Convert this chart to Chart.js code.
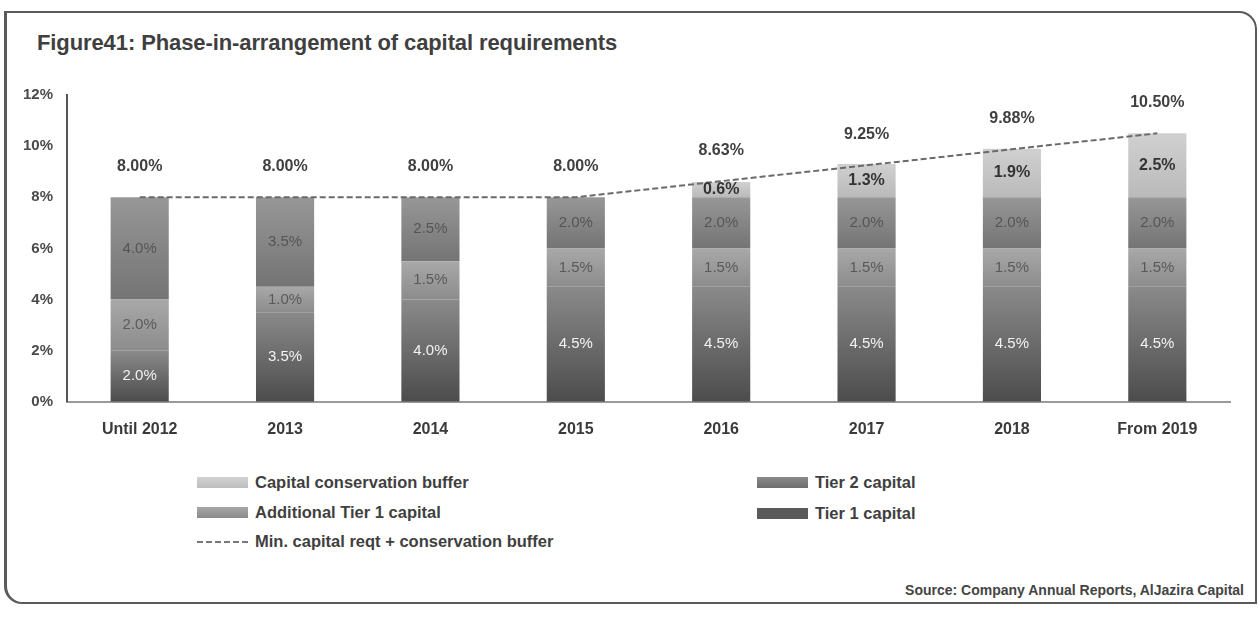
<!DOCTYPE html>
<html>
<head>
<meta charset="utf-8">
<script src="https://cdn.jsdelivr.net/npm/chart.js@4.4.1/dist/chart.umd.min.js"></script>
<style>
  body { margin: 0; background: #fff; font-family: 'Liberation Sans', Arial, sans-serif; }
  #page { position: relative; width: 1259px; height: 619px; overflow: hidden; }
  #frame {
    position: absolute; left: 4px; top: 11px; width: 1248px; height: 589px;
    border: 2px solid #5a5a5a; border-left-width: 3px; border-radius: 0 18px 0 18px;
  }
  #title {
    position: absolute; left: 37px; top: 30px; font-size: 22px; font-weight: bold; color: #3f3f3f;
    white-space: nowrap; letter-spacing: -0.1px;
  }
  #chart-wrap { position: absolute; left: 0; top: 80px; width: 1259px; height: 380px; }
  .legend-item {
    position: absolute; display: flex; align-items: center; font-size: 16.5px; font-weight: bold;
    color: #3f3f3f; white-space: nowrap;
  }
  .swatch { width: 51px; height: 11px; margin-right: 7px; }
  .dash { width: 51px; height: 0; border-top: 2px dashed #777; margin-right: 7px; }
  #source {
    position: absolute; right: 15px; top: 582px; font-size: 14px; font-weight: bold; color: #444;
    white-space: nowrap;
  }
</style>
</head>
<body>
<div id="page">
  <div id="frame"></div>
  <div id="title">Figure41: Phase-in-arrangement of capital requirements</div>
  <div id="chart-wrap"><canvas id="chart"></canvas></div>
  <div id="legend"></div>
  <div id="source">Source: Company Annual Reports, AlJazira Capital</div>
</div>
<script>
const years = ['Until 2012', '2013', '2014', '2015', '2016', '2017', '2018', 'From 2019']
const tier1 = [2.0, 3.5, 4.0, 4.5, 4.5, 4.5, 4.5, 4.5]
const additionalTier1 = [2.0, 1.0, 1.5, 1.5, 1.5, 1.5, 1.5, 1.5]
const tier2 = [4.0, 3.5, 2.5, 2.0, 2.0, 2.0, 2.0, 2.0]
const buffer = [0, 0, 0, 0, 0.6, 1.3, 1.9, 2.5]
const minPlusBuffer = [8.0, 8.0, 8.0, 8.0, 8.63, 9.25, 9.88, 10.5]
const yTicks = [0, 2, 4, 6, 8, 10, 12]

// stack order, bottom to top
const stacks = [tier1, additionalTier1, tier2, buffer]
const shades = [
  { top: '#8a8a8a', bottom: '#4c4c4c', flat: '#5a5a5a', text: '#f2f2f2' },
  { top: '#a8a8a8', bottom: '#8c8c8c', flat: '#9a9a9a', text: '#5a5a5a' },
  { top: '#979797', bottom: '#747474', flat: '#838383', text: '#555555' },
  { top: '#d0d0d0', bottom: '#bababa', flat: '#c4c4c4', text: '#333333' },
]

function segmentFill(ctx, k) {
  const chart = ctx.chart
  const y = chart.scales.y
  if (!chart.chartArea || !y) return shades[k].flat
  const i = ctx.dataIndex
  let base = 0
  for (let j = 0; j < k; j++) base += stacks[j][i]
  const y0 = y.getPixelForValue(base + stacks[k][i])
  const y1 = y.getPixelForValue(base)
  if (y1 - y0 < 1) return shades[k].flat
  const g = chart.ctx.createLinearGradient(0, y0, 0, y1)
  g.addColorStop(0, shades[k].top)
  g.addColorStop(1, shades[k].bottom)
  return g
}

const barNames = ['Tier 1 capital', 'Additional Tier 1 capital', 'Tier 2 capital', 'Capital conservation buffer']

const barSets = stacks.map((vals, k) => ({
  type: 'bar',
  label: barNames[k],
  data: vals,
  stack: 'capital',
  order: 1,
  backgroundColor: (ctx) => segmentFill(ctx, k),
  barPercentage: 0.8,
  categoryPercentage: 0.5,
}))

// value labels on the segments and above the line
const labelPlugin = {
  id: 'valueLabels',
  afterDatasetsDraw(chart) {
    const c = chart.ctx
    c.save()
    c.textAlign = 'center'
    c.textBaseline = 'middle'
    stacks.forEach((vals, k) => {
      const meta = chart.getDatasetMeta(k)
      meta.data.forEach((bar, i) => {
        if (!vals[i]) return
        const mid = (bar.y + bar.base) / 2
        c.font = k === 3 ? 'bold 16px "Liberation Sans", Arial' : '15px "Liberation Sans", Arial'
        c.fillStyle = shades[k].text
        c.fillText(vals[i].toFixed(1) + '%', bar.x, mid)
      })
    })
    const lineMeta = chart.getDatasetMeta(4)
    c.font = 'bold 16px "Liberation Sans", Arial'
    c.fillStyle = '#3f3f3f'
    lineMeta.data.forEach((pt, i) => {
      c.fillText(minPlusBuffer[i].toFixed(2) + '%', pt.x, pt.y - 31)
    })
    c.restore()
  },
}

new Chart(document.getElementById('chart'), {
  type: 'bar',
  data: {
    labels: years,
    datasets: [
      ...barSets,
      {
        type: 'line',
        label: 'Min. capital reqt + conservation buffer',
        data: minPlusBuffer,
        stack: 'line',
        order: 0,
        borderColor: '#6a6a6a',
        borderWidth: 2,
        borderDash: [6, 3],
        pointRadius: 0,
        tension: 0,
      },
    ],
  },
  options: {
    responsive: true,
    maintainAspectRatio: false,
    animation: false,
    layout: { padding: { top: 14, right: 29, bottom: 11, left: 0 } },
    plugins: {
      legend: { display: false },
      tooltip: { enabled: false },
    },
    scales: {
      x: {
        stacked: true,
        grid: { display: false },
        border: { display: true, color: '#9a9a9a', width: 2 },
        ticks: {
          padding: 10,
          color: '#3a3a3a',
          font: { family: '"Liberation Sans", Arial', size: 16, weight: 'bold' },
        },
      },
      y: {
        stacked: true,
        min: 0,
        max: 12,
        afterBuildTicks: (s) => { s.ticks = yTicks.map((v) => ({ value: v })) },
        afterFit: (s) => { s.width = 67 },
        grid: { display: false },
        border: { display: true, color: '#555555', width: 2 },
        ticks: {
          padding: 6,
          color: '#4a4a4a',
          font: { family: '"Liberation Sans", Arial', size: 15, weight: 'bold' },
          callback: (v) => v + '%',
        },
      },
    },
  },
  plugins: [labelPlugin],
})

// legend laid out in two columns under the plot
const legendItems = [
  { text: 'Capital conservation buffer', left: 197, top: 483, fill: 'linear-gradient(#d2d2d2, #bdbdbd)' },
  { text: 'Additional Tier 1 capital', left: 197, top: 513, fill: 'linear-gradient(#a8a8a8, #8a8a8a)' },
  { text: 'Min. capital reqt + conservation buffer', left: 197, top: 542, dash: true },
  { text: 'Tier 2 capital', left: 757, top: 483, fill: 'linear-gradient(#8a8a8a, #6e6e6e)' },
  { text: 'Tier 1 capital', left: 757, top: 514, fill: '#5a5a5a' },
]
const legend = document.getElementById('legend')
legendItems.forEach((it) => {
  const row = document.createElement('div')
  row.className = 'legend-item'
  row.style.left = it.left + 'px'
  row.style.top = (it.top - 10) + 'px'
  const mark = document.createElement('div')
  if (it.dash) {
    mark.className = 'dash'
  } else {
    mark.className = 'swatch'
    mark.style.background = it.fill
  }
  const label = document.createElement('span')
  label.textContent = it.text
  row.appendChild(mark)
  row.appendChild(label)
  legend.appendChild(row)
})
</script>
</body>
</html>
